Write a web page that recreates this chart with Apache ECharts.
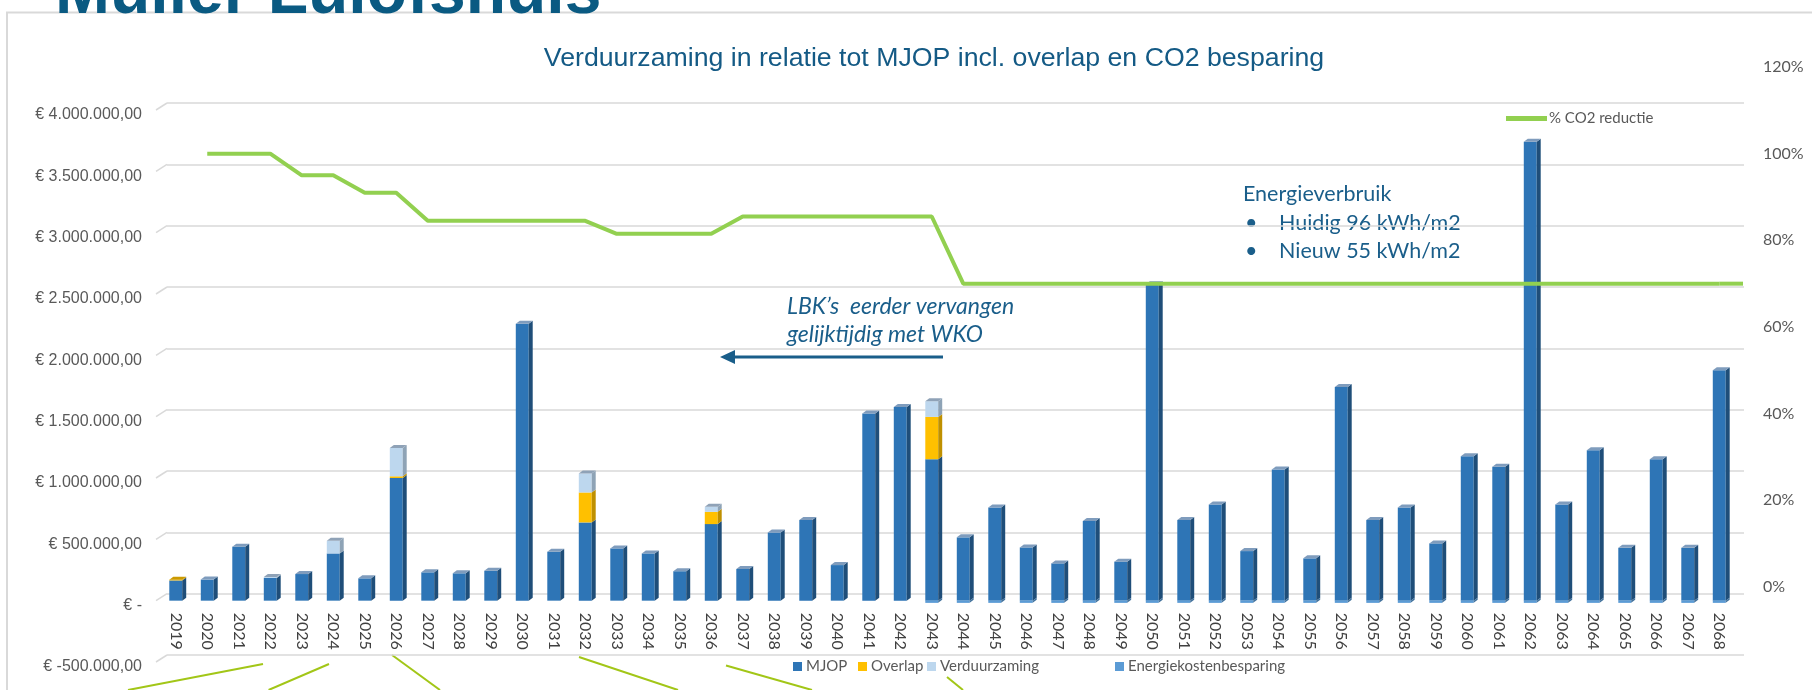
<!DOCTYPE html>
<html><head><meta charset="utf-8">
<script src="https://cdn.jsdelivr.net/npm/echarts@6/dist/echarts.min.js"></script>
<style>html,body{margin:0;padding:0;background:#fff}#c{width:1812px;height:690px}</style>
</head><body><div id="c"></div>
<script>
const years = ['2019','2020','2021','2022','2023','2024','2025','2026','2027','2028','2029','2030','2031','2032','2033','2034','2035','2036','2037','2038','2039','2040','2041','2042','2043','2044','2045','2046','2047','2048','2049','2050','2051','2052','2053','2054','2055','2056','2057','2058','2059','2060','2061','2062','2063','2064','2065','2066','2067','2068'];
const mjop = [165000,172000,440000,185000,217000,385000,182000,1000000,231000,223000,244000,2258000,399000,638000,426000,385000,240000,624000,258000,556000,657000,290000,1525000,1579000,1153000,516000,760000,434000,304000,649000,318000,2580000,657000,784000,404000,1069000,345000,1742000,657000,760000,467000,1178000,1091000,3742000,784000,1227000,431000,1153000,431000,1878000];
const overlap = [6000,0,0,0,0,0,0,14000,0,0,0,0,0,244000,0,0,0,100000,0,0,0,0,0,0,345000,0,0,0,0,0,0,0,0,0,0,0,0,0,0,0,0,0,0,0,0,0,0,0,0,0];
const verduurzaming = [0,0,0,8000,0,103000,0,231000,0,0,0,0,0,155000,0,0,0,41000,0,0,0,0,0,0,128000,0,0,0,0,0,0,0,0,0,0,0,0,0,0,0,0,0,0,0,0,0,0,0,0,0];
const energiekostenbesparing = [0,0,0,0,0,0,0,0,0,0,0,0,0,0,0,0,0,0,0,0,0,0,0,0,-18000,-18000,-18000,-18000,-18000,-18000,-18000,-18000,-18000,-18000,-18000,-18000,-18000,-18000,-18000,-18000,-18000,-18000,-18000,-18000,-18000,-18000,-18000,-18000,-18000,-18000];
const co2Reductie = [null,1.00,1.00,1.00,0.95,0.95,0.91,0.91,0.845,0.845,0.845,0.845,0.845,0.845,0.815,0.815,0.815,0.815,0.855,0.855,0.855,0.855,0.855,0.855,0.855,0.70,0.70,0.70,0.70,0.70,0.70,0.70,0.70,0.70,0.70,0.70,0.70,0.70,0.70,0.70,0.70,0.70,0.70,0.70,0.70,0.70,0.70,0.70,0.70,0.70];
const leftTicks = [-500000,0,500000,1000000,1500000,2000000,2500000,3000000,3500000,4000000];

const chart = echarts.init(document.getElementById('c'));
const CAL = 'Lato, "Open Sans", sans-serif';
const ARIAL = '"Liberation Sans", Arial, sans-serif';
const TXT = '#1a5e8a';

const segs = [
  {name:'MJOP', vals:mjop, front:'#2e75b6', side:'#1f4e79', top:'#7f9cbd'},
  {name:'Overlap', vals:overlap, front:'#ffc000', side:'#bf9000', top:'#cc9a00'},
  {name:'Verduurzaming', vals:verduurzaming, front:'#bdd7ee', side:'#8ea3b6', top:'#8fa2b7'},
  {name:'Energiekostenbesparing', vals:energiekostenbesparing, front:'#5b9bd5', side:'#41719c', top:'#9dc3e6'}
];
const segData = segs.map(()=>[]);
for (let i=0;i<years.length;i++){
  let b = 0, topIdx = -1;
  for (let k=0;k<3;k++){ if (segs[k].vals[i]>0) topIdx = k; }
  for (let k=0;k<3;k++){
    const v = segs[k].vals[i];
    if (v>0){ segData[k].push([i,b,b+v,k===topIdx?1:0]); b+=v; }
  }
  const e = energiekostenbesparing[i];
  if (e<0) segData[3].push([i,0,e,0]);
}

function render3D(s){
  return function(params, api){
    const idx = api.value(0), base = api.value(1), top = api.value(2), isTop = api.value(3);
    const pb = api.coord([idx, base]);
    const pt = api.coord([idx, top]);
    const w = api.size([1,0])[0]*0.41, dx = 4, dy = 3;
    const xl = pb[0]-w/2, xr = pb[0]+w/2;
    const y0 = Math.min(pb[1],pt[1]), y1 = Math.max(pb[1],pt[1]);
    const ch = [
      {type:'rect', shape:{x:xl,y:y0,width:w,height:y1-y0}, style:{fill:s.front}},
      {type:'polygon', shape:{points:[[xr,y0],[xr+dx,y0-dy],[xr+dx,y1-dy],[xr,y1]]}, style:{fill:s.side}}
    ];
    if (isTop) ch.push({type:'polygon', shape:{points:[[xl,y0],[xl+dx,y0-dy],[xr+dx,y0-dy],[xr,y0]]}, style:{fill:s.top}});
    return {type:'group', children:ch};
  };
}

function euro(v){
  if (v===0) return '€ -';
  const p = Math.abs(v).toFixed(2).split('.');
  return '€ ' + (v<0?'-':'') + p[0].replace(/\B(?=(\d{3})+(?!\d))/g,'.') + ',' + p[1];
}

const series = segs.map((s,k)=>({
  name:s.name, type:'custom', xAxisIndex:1, yAxisIndex:1, z:5,
  itemStyle:{color:s.front},
  renderItem: render3D(s),
  encode:{x:0,y:[1,2]},
  data: segData[k]
}));
series.push({
  name:'diag', type:'custom', xAxisIndex:1, yAxisIndex:1, z:1, silent:true,
  renderItem:function(params, api){
    const p = api.coord([0, api.value(0)]);
    const cx = params.coordSys.x;
    return {type:'line', shape:{x1:cx-4,y1:p[1],x2:cx+7,y2:p[1]-7}, style:{stroke:'#d9d9d9',lineWidth:1.5}};
  },
  encode:{y:0}, data: leftTicks.map(v=>[v])
});
series.push({
  name:'% CO2 reductie', type:'line', xAxisIndex:2, yAxisIndex:2, z:10,
  data: co2Reductie, symbol:'none', connectNulls:false,
  lineStyle:{color:'#92d050', width:4}, itemStyle:{color:'#92d050'}
});
// the line runs on to the right edge of the plot wall, as in the original
const lastIdx = co2Reductie.length-1;
series.push({
  name:'co2tail', type:'custom', xAxisIndex:2, yAxisIndex:2, z:10, silent:true,
  renderItem:function(params, api){
    const p = api.coord([api.value(0), api.value(1)]);
    const edge = params.coordSys.x + params.coordSys.width + 8;
    return {type:'line', shape:{x1:p[0],y1:p[1],x2:edge,y2:p[1]}, style:{stroke:'#92d050',lineWidth:4}};
  },
  encode:{x:0,y:1}, data:[[lastIdx, co2Reductie[lastIdx]]]
});

const legendBase = {orient:'horizontal', itemWidth:9, itemHeight:9, itemGap:0, icon:'rect',
  textStyle:{fontFamily:CAL, fontSize:15, color:'#595959', padding:[0,0,0,-1]}, top:659, padding:0, selectedMode:false};

chart.setOption({
  animation:false,
  backgroundColor:'#fff',
  title:{text:'Verduurzaming in relatie tot MJOP incl. overlap en CO2 besparing', left:929, textAlign:'center', top:40,
    textStyle:{fontFamily:ARIAL, fontWeight:'normal', fontSize:26.7, color:'#145a85'}},
  grid:[
    {left:167, width:1577, top:103, height:552, outerBoundsMode:'none', containLabel:false},
    {left:160, width:1575, top:110, height:552, outerBoundsMode:'none', containLabel:false},
    {left:160, width:1575, top:67, height:520, outerBoundsMode:'none', containLabel:false}
  ],
  xAxis:[
    {gridIndex:0, type:'category', data:years, show:false},
    {gridIndex:1, type:'category', data:years, boundaryGap:true, position:'bottom', offset:-61.33,
      axisLine:{show:false, onZero:false}, axisTick:{show:false},
      axisLabel:{rotate:-90, margin:12, fontFamily:CAL, fontSize:16, color:'#404040', interval:0}},
    {gridIndex:2, type:'category', data:years, boundaryGap:true, show:false}
  ],
  yAxis:[
    {gridIndex:0, type:'value', min:-500000, max:4000000, interval:500000,
      axisLabel:{show:false}, axisLine:{show:false}, axisTick:{show:false},
      splitLine:{lineStyle:{color:'#d9d9d9', width:1.5}}},
    {gridIndex:1, type:'value', min:-500000, max:4000000, interval:500000,
      axisLine:{show:false}, axisTick:{show:false}, splitLine:{show:false},
      axisLabel:{formatter:euro, margin:18, verticalAlign:'top', lineHeight:10, fontFamily:ARIAL, fontSize:16, color:'#595959'}},
    {gridIndex:2, type:'value', position:'right', min:0, max:1.2, interval:0.2,
      axisLine:{show:false}, axisTick:{show:false}, splitLine:{show:false},
      axisLabel:{formatter:v=>Math.round(v*100)+'%', margin:28, fontFamily:CAL, fontSize:16, color:'#595959'}}
  ],
  legend:[
    Object.assign({}, legendBase, {left:793, data:['MJOP']}),
    Object.assign({}, legendBase, {left:858, data:['Overlap']}),
    Object.assign({}, legendBase, {left:927, data:['Verduurzaming']}),
    Object.assign({}, legendBase, {left:1115, data:['Energiekostenbesparing']}),
    {left:1506, top:111, padding:0, itemWidth:41, itemHeight:5, icon:'rect', selectedMode:false,
      textStyle:{fontFamily:CAL, fontSize:15, color:'#595959', padding:[0,0,0,-3]}, data:['% CO2 reductie']}
  ],
  graphic:[
    {type:'rect', z:-10, shape:{x:7, y:12.5, width:1850, height:720}, style:{fill:null, stroke:'#d9d9d9', lineWidth:2}},
    {type:'text', z:100, style:{text:'Muller Lulofshuis', x:55, y:28, verticalAlign:'bottom', font:'bold 66px "Liberation Sans", Arial, sans-serif', fill:'#0a5a82'}},
    {type:'text', style:{text:'Energieverbruik', x:1243, y:194, verticalAlign:'middle', font:'21.5px Lato, sans-serif', fill:TXT}},
    {type:'text', style:{text:'•', x:1245, y:223, verticalAlign:'middle', font:'21.5px Lato, sans-serif', fill:TXT}},
    {type:'text', style:{text:'Huidig 96 kWh/m2', x:1279, y:223, verticalAlign:'middle', font:'21.5px Lato, sans-serif', fill:TXT}},
    {type:'text', style:{text:'•', x:1245, y:251, verticalAlign:'middle', font:'21.5px Lato, sans-serif', fill:TXT}},
    {type:'text', style:{text:'Nieuw 55 kWh/m2', x:1279, y:251, verticalAlign:'middle', font:'21.5px Lato, sans-serif', fill:TXT}},
    {type:'text', style:{text:'LBK’s  eerder vervangen', x:787, y:307, verticalAlign:'middle', font:'italic 23px Lato, sans-serif', fill:TXT}},
    {type:'text', style:{text:'gelijktijdig met WKO', x:787, y:335, verticalAlign:'middle', font:'italic 23px Lato, sans-serif', fill:TXT}},
    {type:'line', shape:{x1:943, y1:357, x2:730, y2:357}, style:{stroke:'#1a5e8a', lineWidth:3}},
    {type:'polygon', shape:{points:[[720,357],[735,350],[735,364]]}, style:{fill:'#1a5e8a'}},
    {type:'line', shape:{x1:263, y1:664, x2:128, y2:690}, style:{stroke:'#a2c617', lineWidth:2}},
    {type:'line', shape:{x1:329, y1:664, x2:268.6, y2:690}, style:{stroke:'#a2c617', lineWidth:2}},
    {type:'line', shape:{x1:392, y1:655, x2:440, y2:690}, style:{stroke:'#a2c617', lineWidth:2}},
    {type:'line', shape:{x1:579, y1:657, x2:678, y2:690}, style:{stroke:'#a2c617', lineWidth:2}},
    {type:'line', shape:{x1:726, y1:665.5, x2:812, y2:690}, style:{stroke:'#a2c617', lineWidth:2}},
    {type:'line', shape:{x1:947, y1:677, x2:963, y2:690}, style:{stroke:'#a2c617', lineWidth:2}}
  ],
  series: series
});
</script></body></html>
